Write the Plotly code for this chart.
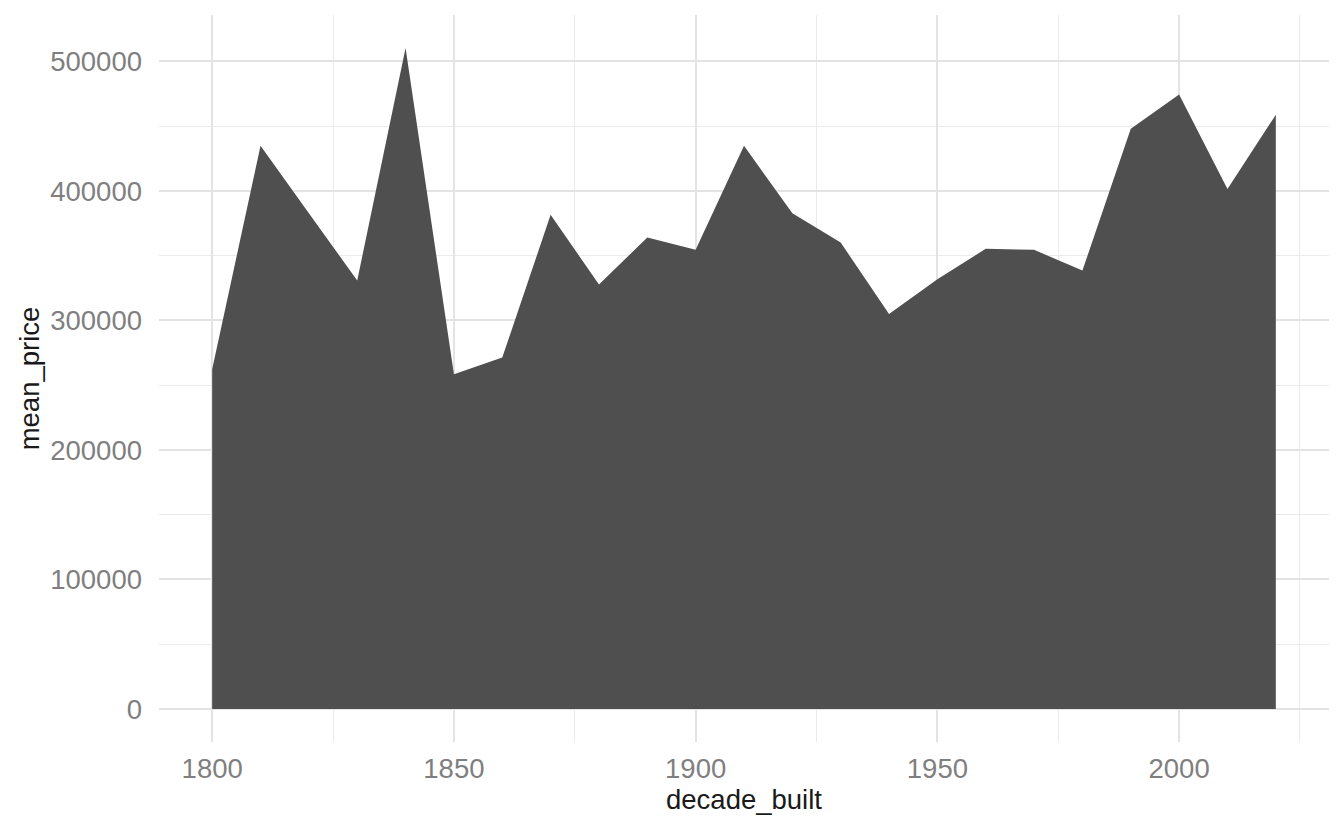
import plotly.graph_objects as go

decade_built = [1800, 1810, 1820, 1830, 1840, 1850, 1860, 1870, 1880, 1890, 1900, 1910,
                1920, 1930, 1940, 1950, 1960, 1970, 1980, 1990, 2000, 2010, 2020]
mean_price = [262300, 434800, 382800, 330800, 510300, 258400, 271300, 381500, 327800, 364000,
              354500, 434800, 382800, 360100, 305000, 331800, 355300, 354500, 338500, 448000,
              474500, 401400, 458800]

x_ticks = [1800, 1850, 1900, 1950, 2000]
y_ticks = [0, 100000, 200000, 300000, 400000, 500000]

fill_color = "#4F4F4F"
grid_major = "#E3E3E3"
grid_minor = "#EBEBEB"
tick_color = "#7F7F7F"
title_color = "#1A1A1A"

fig = go.Figure()
fig.add_trace(go.Scatter(
    x=decade_built, y=mean_price, mode="lines", fill="tozeroy",
    fillcolor=fill_color, line=dict(width=0, color=fill_color),
    showlegend=False, hoverinfo="x+y",
))

xmin, xmax = min(decade_built), max(decade_built)
xpad = (xmax - xmin) * 0.05
ymax = max(mean_price)
ypad = ymax * 0.05

fig.update_layout(
    width=1344, height=830,
    margin=dict(l=159, r=15, t=15, b=88),
    paper_bgcolor="white", plot_bgcolor="white",
    font=dict(family="Liberation Sans, Arial, sans-serif"),
    xaxis=dict(
        range=[xmin - xpad, xmax + xpad], automargin=False,
        tickvals=x_ticks, ticktext=[str(v) for v in x_ticks],
        showgrid=True, gridcolor=grid_major, gridwidth=2,
        minor=dict(dtick=25, tick0=1800, showgrid=True, gridcolor=grid_minor, gridwidth=1.2),
        zeroline=False, showline=False, ticks="",
        tickfont=dict(size=27.5, color=tick_color),
        ticklabelstandoff=7,
        title=dict(text="decade_built", font=dict(size=27.5, color=title_color), standoff=6),
    ),
    yaxis=dict(
        range=[-ypad, ymax + ypad], automargin=False,
        tickvals=y_ticks, ticktext=[str(v) for v in y_ticks],
        showgrid=True, gridcolor=grid_major, gridwidth=2,
        minor=dict(dtick=50000, tick0=0, showgrid=True, gridcolor=grid_minor, gridwidth=1.2),
        zeroline=False, showline=False, ticks="",
        tickfont=dict(size=27.5, color=tick_color),
        ticklabelstandoff=16,
        title=dict(text="mean_price", font=dict(size=27.5, color=title_color), standoff=2),
    ),
)

fig.write_html("out.html", config={"displayModeBar": False},
               post_script="document.body.style.margin='0';")
